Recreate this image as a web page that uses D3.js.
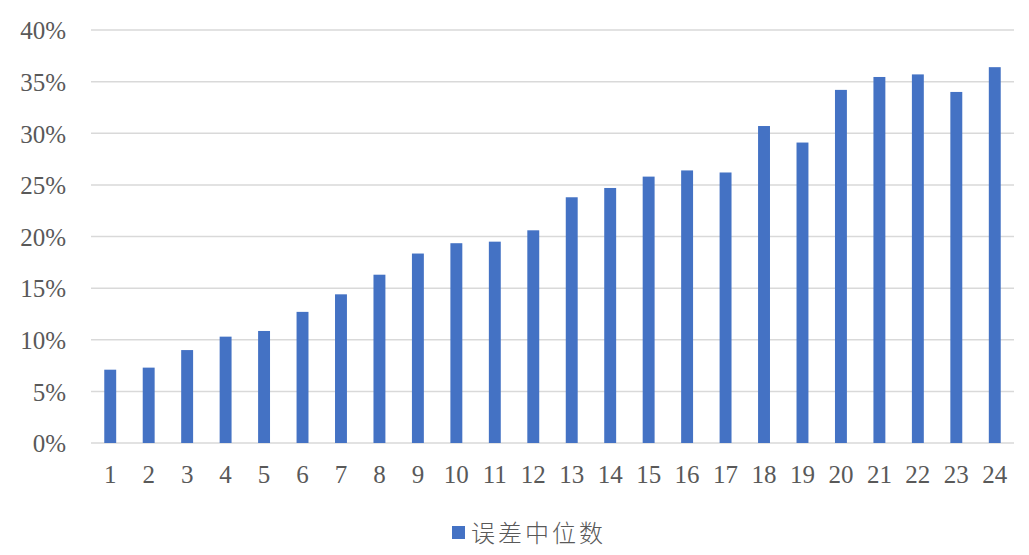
<!DOCTYPE html>
<html><head><meta charset="utf-8">
<script src="https://cdn.jsdelivr.net/npm/d3@7"></script>
<style>body{margin:0;background:#fff;}svg{display:block;}</style>
</head><body>
<script>
const categories = ["1","2","3","4","5","6","7","8","9","10","11","12","13","14","15","16","17","18","19","20","21","22","23","24"];
const values = [7.1,7.3,9.0,10.3,10.85,12.7,14.4,16.3,18.35,19.35,19.5,20.6,23.8,24.7,25.8,26.4,26.2,30.7,29.1,34.2,35.45,35.7,34.0,36.4];
const yTicks = [0,5,10,15,20,25,30,35,40];
const seriesName = "误差中位数";

const W = 1029, H = 555;
const m = {left: 91, right: 15, top: 30, bottom: 112};
const svg = d3.select("body").append("svg").attr("width", W).attr("height", H);

const x = d3.scaleBand().domain(categories).range([m.left, W - m.right]).paddingInner(0.69).paddingOuter(0.345);
const y = d3.scaleLinear().domain([0, 40]).range([H - m.bottom, m.top]);

const serif = "'Times New Roman','Liberation Serif',serif";

// gridlines
svg.append("g").selectAll("line").data(yTicks).join("line")
  .attr("x1", m.left).attr("x2", W - m.right)
  .attr("y1", d => y(d)).attr("y2", d => y(d))
  .attr("stroke", "#d9d9d9").attr("stroke-width", 1.5);

// y axis labels
const yAxis = svg.append("g").attr("transform", `translate(${m.left - 25},0)`)
  .call(d3.axisLeft(y).tickValues(yTicks).tickFormat(d => d + "%").tickSize(0).tickPadding(0));
yAxis.select(".domain").remove();
yAxis.selectAll("text").attr("font-family", serif)
  .attr("font-size", 25).attr("fill", "#595959").attr("dy", "0.35em");

// bars
svg.append("g").selectAll("rect").data(values).join("rect")
  .attr("x", (d, i) => x(categories[i]))
  .attr("width", x.bandwidth())
  .attr("y", d => y(d))
  .attr("height", d => y(0) - y(d))
  .attr("fill", "#4472c4");

// x axis labels
const xAxis = svg.append("g").attr("transform", `translate(0,${y(0)})`)
  .call(d3.axisBottom(x).tickSize(0).tickPadding(0));
xAxis.select(".domain").remove();
xAxis.selectAll("text").attr("font-family", serif)
  .attr("font-size", 25).attr("fill", "#595959").attr("dy", null).attr("y", 40);

// legend
const lg = svg.append("g").attr("transform", "translate(452,526)");
lg.append("rect").attr("width", 13).attr("height", 13).attr("fill", "#4472c4");
lg.append("text").attr("x", 19).attr("y", 7).attr("dy", "0.36em")
  .attr("font-family", "'Noto Sans CJK SC',sans-serif").attr("font-weight", 300)
  .attr("font-size", 24).attr("letter-spacing", 3).attr("fill", "#595959").text(seriesName);
</script>
</body></html>
